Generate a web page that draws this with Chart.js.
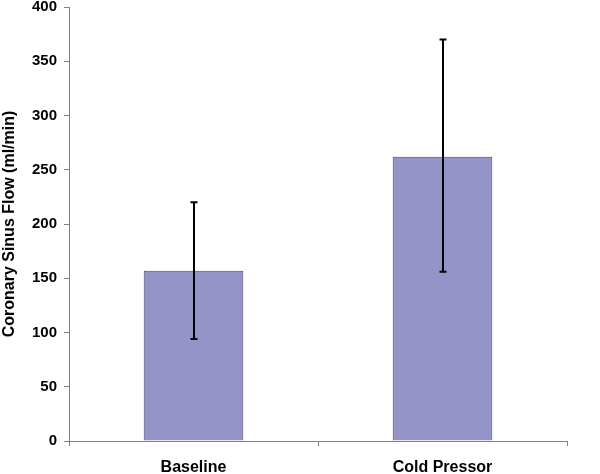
<!DOCTYPE html>
<html>
<head>
<meta charset="utf-8">
<script src="https://cdn.jsdelivr.net/npm/chart.js@4/dist/chart.umd.min.js"></script>
<style>
html,body{margin:0;padding:0;background:#fff;}
#wrap{width:600px;height:474px;}
</style>
</head>
<body>
<div id="wrap"><canvas id="c" width="600" height="474"></canvas></div>
<script>
const categories = ['Baseline', 'Cold Pressor'];
const meanFlow = [157, 262];
const errLow = [94, 156];
const errHigh = [220, 370];
const yTicks = [0, 50, 100, 150, 200, 250, 300, 350, 400];

const errorBars = {
  id: 'errorBars',
  afterDatasetsDraw(chart) {
    const ctx = chart.ctx;
    const meta = chart.getDatasetMeta(0);
    const y = chart.scales.y;
    ctx.save();
    ctx.strokeStyle = '#000';
    ctx.lineWidth = 2;
    meta.data.forEach((bar, i) => {
      const x = Math.round(bar.x);
      const yl = y.getPixelForValue(errLow[i]);
      const yh = y.getPixelForValue(errHigh[i]);
      ctx.beginPath();
      ctx.moveTo(x, yl); ctx.lineTo(x, yh);
      ctx.moveTo(x - 3.5, yl); ctx.lineTo(x + 3.5, yl);
      ctx.moveTo(x - 3.5, yh); ctx.lineTo(x + 3.5, yh);
      ctx.stroke();
    });
    ctx.restore();
  }
};

new Chart(document.getElementById('c'), {
  type: 'bar',
  data: {
    labels: categories,
    datasets: [{
      data: meanFlow,
      backgroundColor: '#9494c9',
      borderColor: '#404070',
      borderWidth: 1,
      borderSkipped: 'bottom',
      categoryPercentage: 1,
      barPercentage: 0.4
    }]
  },
  options: {
    responsive: false,
    animation: false,
    devicePixelRatio: 1,
    layout: { padding: { left: 0, right: 33, top: 0, bottom: 0 } },
    plugins: { legend: { display: false }, tooltip: { enabled: false } },
    scales: {
      x: {
        grid: { display: true, offset: true, drawOnChartArea: false, drawTicks: true, tickLength: 5, color: '#808080' },
        border: { display: true, color: '#808080', width: 1 },
        ticks: { color: '#000', font: { family: 'Liberation Sans, Arial', size: 16, weight: 'bold' }, padding: 12, maxRotation: 0 },
        afterFit(s) { s.height = 33; }
      },
      y: {
        min: 0, max: 400,
        afterBuildTicks(s) { s.ticks = yTicks.map(v => ({ value: v })); },
        grid: { display: true, drawOnChartArea: false, drawTicks: true, tickLength: 5, color: '#808080' },
        border: { display: true, color: '#808080', width: 1 },
        ticks: { color: '#000', font: { family: 'Liberation Sans, Arial', size: 15, weight: 'bold' }, padding: 7 },
        title: { display: true, text: 'Coronary Sinus Flow (ml/min)', color: '#000', font: { family: 'Liberation Sans, Arial', size: 16, weight: 'bold' }, padding: { top: 0, bottom: 0 } },
        afterFit(s) { s.width = 69; s.paddingTop = 7; }
      }
    }
  },
  plugins: [errorBars]
});
</script>
</body>
</html>
